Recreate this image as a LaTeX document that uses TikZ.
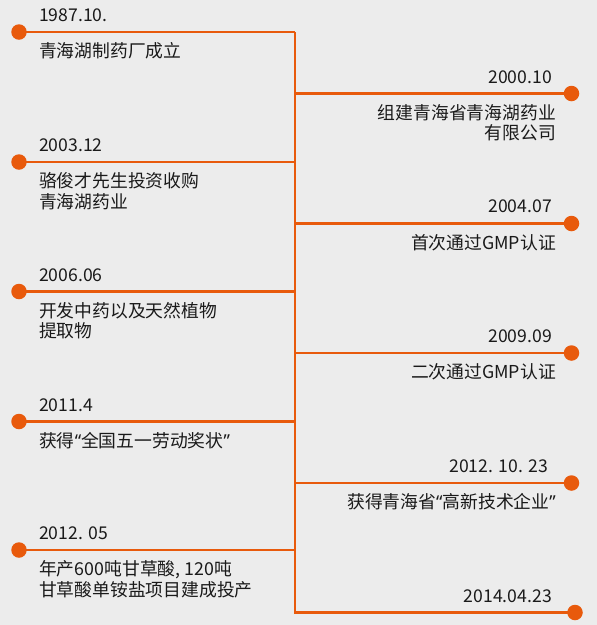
\documentclass[tikz,border=0pt]{standalone}
\usepackage{fontspec}
\setmainfont{Noto Sans CJK SC}
\newfontfamily\qf{Noto Sans}
\newcommand{\myoq}{{\qf “}}
\newcommand{\mycq}{{\qf ”}}
\definecolor{org}{HTML}{E85A0C}
\definecolor{bgc}{HTML}{ECECEC}
\definecolor{txt}{HTML}{1A1A1A}
\begin{document}
\begin{tikzpicture}[x=1pt,y=-1pt,
  bar/.style={draw=org,line width=2.9pt},
  dot/.style={circle,fill=org,inner sep=0pt,minimum size=15.5pt},
  datel/.style={font=\fontsize{17.6}{20.5}\selectfont,text=txt,inner sep=0pt,anchor=base west},
  dater/.style={font=\fontsize{17.6}{20.5}\selectfont,text=txt,inner sep=0pt,anchor=base east},
  descl/.style={font=\fontsize{17.8}{20.5}\selectfont,text=txt,inner sep=0pt,anchor=north west,align=left},
  descr/.style={font=\fontsize{17.8}{20.5}\selectfont,text=txt,inner sep=0pt,anchor=north east,align=right}]
\fill[bgc] (0,0) rectangle (597,625);
\useasboundingbox (0,0) rectangle (597,625);
% spine
\coordinate (top) at (295,32);
\coordinate (bot) at (295,613.8);
\draw[bar,line cap=butt] (top) -- (bot);
% left events
\foreach \n/\y in {l1/32,l2/162,l3/291.5,l4/421.5,l5/550}{
  \node[dot] (\n) at (19,\y) {};
  \draw[bar] (\n.center) -- (\n.center -| top);
}
% right events
\foreach \n/\y/\x in {r1/93.5/571.5,r2/223.5/571.5,r3/353/571.5,r4/483/571.5,r5/612.5/575}{
  \node[dot] (\n) at (\x,\y) {};
  \draw[bar] (\n.center) -- (\n.center -| top);
}
% left texts
\node[datel] (l1d) at (39,21.5) {1987.10.};
\node[descl] (l1t) at (39,42.7) {青海湖制药厂成立};
\node[datel] (l2d) at (39,151.5) {2003.12};
\node[descl] (l2t) at (39,172.5) {骆俊才先生投资收购\\青海湖药业};
\node[datel] (l3d) at (39,281) {2006.06};
\node[descl] (l3t) at (39,302) {开发中药以及天然植物\\提取物};
\node[datel] (l4d) at (39,411) {2011.4};
\node[descl] (l4t) at (39,432) {获得\myoq 全国五一劳动奖状\mycq};
\node[datel] (l5d) at (39,539.5) {2012. 05};
\node[descl] (l5t) at (39,560.5) {年产600吨甘草酸, 120吨\\甘草酸单铵盐项目建成投产};
% right texts
\node[dater] (r1d) at (552,83) {2000.10};
\node[descr] (r1t) at (556,104) {组建青海省青海湖药业\\有限公司};
\node[dater] (r2d) at (552,212.5) {2004.07};
\node[descr] (r2t) at (556,234) {首次通过GMP认证};
\node[dater] (r3d) at (552,342.5) {2009.09};
\node[descr] (r3t) at (556,363.5) {二次通过GMP认证};
\node[dater] (r4d) at (548,472.5) {2012. 10. 23};
\node[descr] (r4t) at (556,493.5) {获得青海省\myoq 高新技术企业\mycq};
\node[dater] (r5d) at (552,602) {2014.04.23};
\end{tikzpicture}
\end{document}
